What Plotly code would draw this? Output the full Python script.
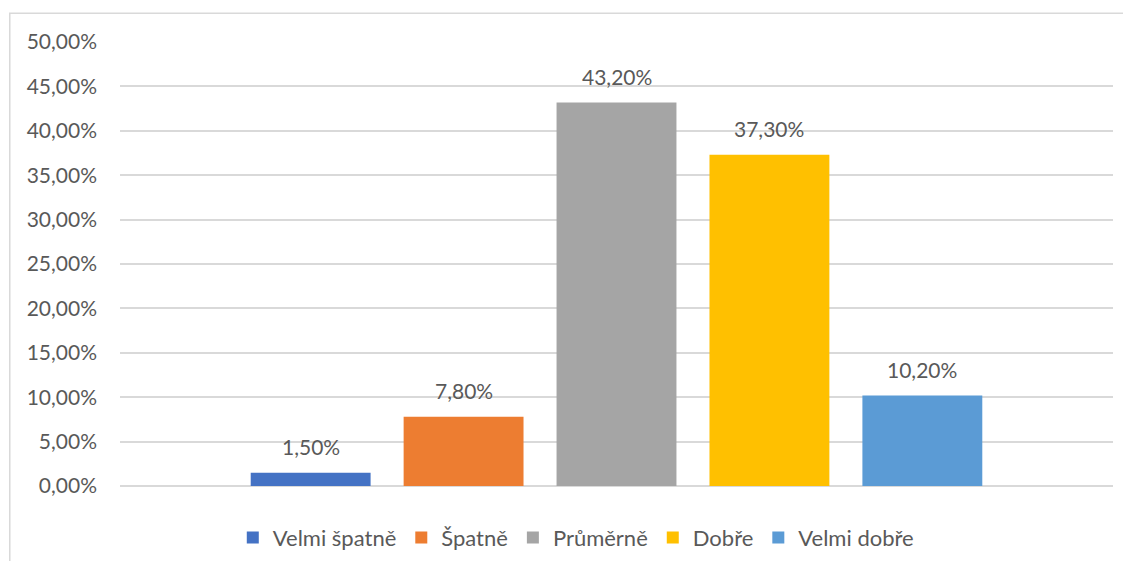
import plotly.graph_objects as go

# hodnocení – jedna kategorie, pět řad (jako v Excelu)
series_names = ["Velmi špatně", "Špatně", "Průměrně", "Dobře", "Velmi dobře"]
series_values = [0.015, 0.078, 0.432, 0.373, 0.102]
series_colors = ["#4472C4", "#ED7D31", "#A5A5A5", "#FFC000", "#5B9BD5"]
y_ticks = [0, 0.05, 0.10, 0.15, 0.20, 0.25, 0.30, 0.35, 0.40, 0.45, 0.50]

TEXT = "#595959"
FONT = "Lato, Open Sans, sans-serif"
BARGAP = 0.23

fig = go.Figure()
for name, value, color in zip(series_names, series_values, series_colors):
    fig.add_trace(go.Bar(
        x=[""],
        y=[value],
        name=name,
        marker=dict(color=color, line=dict(width=0)),
    ))

# popisky dat – nad středem každého sloupce ve skupině
slot = (1 - BARGAP) / len(series_values)
for i, value in enumerate(series_values):
    fig.add_annotation(
        x=(i - (len(series_values) - 1) / 2) * slot,
        y=value,
        xref="x", yref="y",
        text=f"{value * 100:.2f}".replace(".", ",") + "%",
        showarrow=False,
        yanchor="middle",
        yshift=26,
        font=dict(size=21, color=TEXT),
    )

fig.update_layout(
    width=1115,
    height=553,
    margin=dict(l=112, r=10, t=34, b=75),
    paper_bgcolor="white",
    plot_bgcolor="white",
    separators=", ",
    barmode="group",
    bargap=BARGAP,
    bargroupgap=0.216,
    font=dict(family=FONT, size=21, color=TEXT),
    showlegend=True,
    legend=dict(
        orientation="h",
        x=0.459,
        xanchor="center",
        yref="container",
        y=0.042,
        yanchor="middle",
        font=dict(size=22, color=TEXT),
        itemwidth=30,
        traceorder="normal",
    ),
    # rámeček grafu (pravá a spodní hrana jsou mimo výřez)
    shapes=[dict(
        type="rect", xref="paper", yref="paper",
        x0=-0.111, x1=1.05, y0=-0.30, y1=1.065,
        line=dict(color="#D9D9D9", width=1.5),
        fillcolor="rgba(0,0,0,0)",
        layer="below",
    )],
)
fig.update_yaxes(
    range=[0, 0.5],
    tickvals=y_ticks,
    tickformat=".2%",
    showgrid=True,
    gridcolor="#D9D9D9",
    gridwidth=1.5,
    zeroline=True,
    zerolinecolor="#D9D9D9",
    zerolinewidth=1.5,
    ticks="",
    ticklabelstandoff=22,
    tickfont=dict(size=21, color=TEXT),
)
fig.update_xaxes(showticklabels=False, showgrid=False, zeroline=False, showline=False)

fig.write_html("out.html")
